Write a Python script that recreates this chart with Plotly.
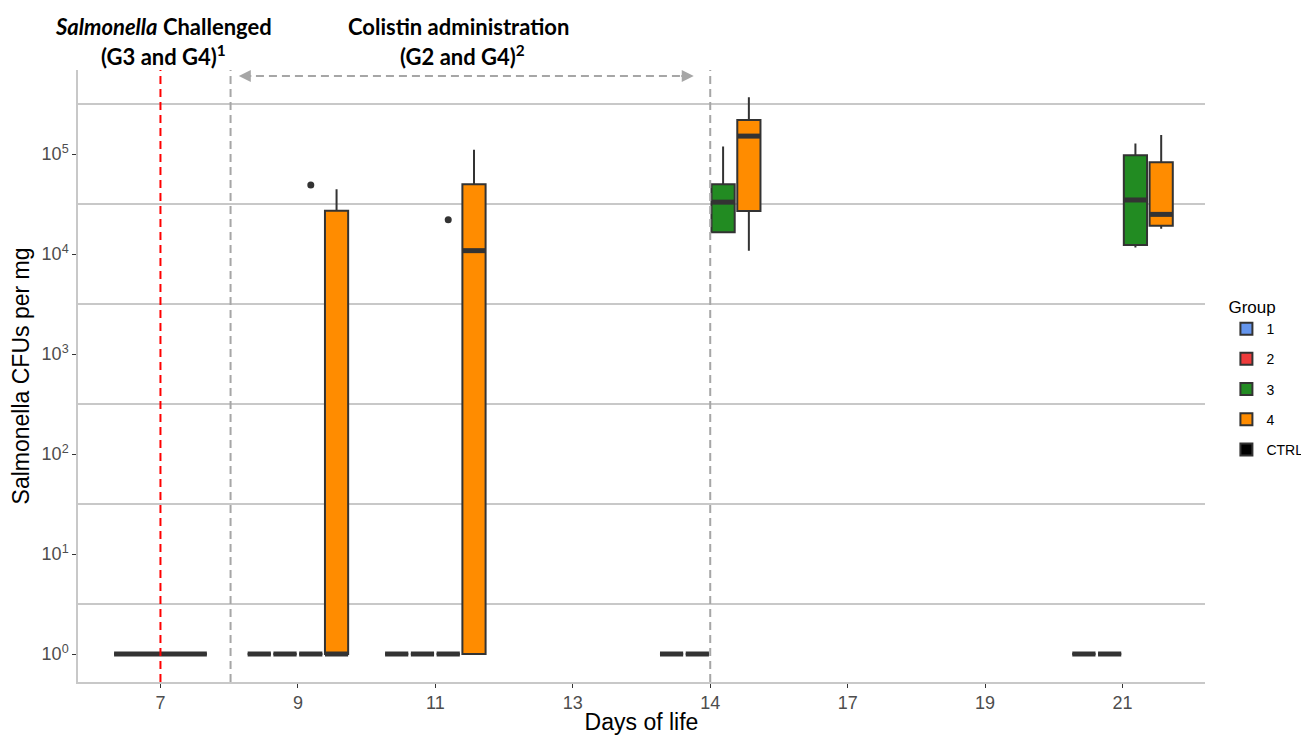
import plotly.graph_objects as go

# ---------------- data ----------------
days = ["7", "9", "11", "13", "14", "17", "19", "21"]
groups = ["1", "2", "3", "4", "CTRL"]
group_colors = ["#6495ED", "#EE3B3B", "#228B22", "#FF8C00", "#000000"]

# box statistics per group: days present, q1, median, q3, lower / upper whisker ends
g1_days = ["9", "11", "14", "21"]
g1_q1 = [1, 1, 1, 1]
g1_med = [1, 1, 1, 1]
g1_q3 = [1, 1, 1, 1]
g1_lo = [1, 1, 1, 1]
g1_hi = [1, 1, 1, 1]

g2_days = ["9", "11", "14", "21"]
g2_q1 = [1, 1, 1, 1]
g2_med = [1, 1, 1, 1]
g2_q3 = [1, 1, 1, 1]
g2_lo = [1, 1, 1, 1]
g2_hi = [1, 1, 1, 1]

g3_days = ["9", "11", "14", "21"]
g3_q1 = [1, 1, 16500, 12300]
g3_med = [1, 1, 33000, 34700]
g3_q3 = [1, 1, 49800, 97000]
g3_lo = [1, 1, 16500, 11600]
g3_hi = [1, 1, 119000, 127000]

g4_days = ["9", "11", "14", "21"]
g4_q1 = [1, 1, 26900, 19200]
g4_med = [1, 10800, 151000, 24900]
g4_q3 = [27100, 49800, 219000, 82600]
g4_lo = [1, 1, 10800, 17900]
g4_hi = [44400, 110000, 369000, 155000]

ctrl_days = ["7"]
ctrl_q1 = [1]
ctrl_med = [1]
ctrl_q3 = [1]
ctrl_lo = [1]
ctrl_hi = [1]

# outliers (group 3)
out_days = ["9", "11"]
out_group = ["3", "3"]
out_vals = [49000, 22000]

y_tickvals = [1, 10, 100, 1000, 10000, 100000]
y_ticktext = ["10<sup>0</sup>", "10<sup>1</sup>", "10<sup>2</sup>", "10<sup>3</sup>",
              "10<sup>4</sup>", "10<sup>5</sup>"]
grid_vals = [10 ** (k + 0.5) for k in range(6)]

stats = {
    "1": (g1_days, g1_q1, g1_med, g1_q3, g1_lo, g1_hi),
    "2": (g2_days, g2_q1, g2_med, g2_q3, g2_lo, g2_hi),
    "3": (g3_days, g3_q1, g3_med, g3_q3, g3_lo, g3_hi),
    "4": (g4_days, g4_q1, g4_med, g4_q3, g4_lo, g4_hi),
    "CTRL": (ctrl_days, ctrl_q1, ctrl_med, ctrl_q3, ctrl_lo, ctrl_hi),
}

# ---------------- dodge (like ggplot position_dodge2) ----------------
DODGE = 0.75
PAD = 0.1
present = {d: [g for g in groups if d in stats[g][0]] for d in days}


def dodge_pos(day, grp):
    lst = present[day]
    n = len(lst)
    slot = DODGE / n
    i = lst.index(grp)
    return days.index(day) - DODGE / 2 + slot * (i + 0.5), slot * (1 - PAD)


fig = go.Figure()
LINE = "#333333"

for g, col in zip(groups, group_colors):
    gd, q1, med, q3, lo, hi = stats[g]
    xs, ws = [], []
    for d in gd:
        p, w = dodge_pos(d, g)
        xs.append(p)
        ws.append(w)
    fig.add_trace(go.Box(
        x=xs, q1=q1, median=med, q3=q3, lowerfence=lo, upperfence=hi,
        width=ws[0], name=g, legendgroup=g,
        fillcolor=col, line=dict(color=LINE, width=2),
        whiskerwidth=0, boxpoints=False, hoverinfo="skip",
    ))
    # thick median bars
    mx, my = [], []
    for p, w, m in zip(xs, ws, med):
        mx += [p - w / 2, p + w / 2, None]
        my += [m, m, None]
    fig.add_trace(go.Scatter(
        x=mx, y=my, mode="lines", line=dict(color=LINE, width=5),
        showlegend=False, legendgroup=g, hoverinfo="skip",
    ))

ox = [dodge_pos(d, g)[0] for d, g in zip(out_days, out_group)]
fig.add_trace(go.Scatter(
    x=ox, y=out_vals, mode="markers",
    marker=dict(color=LINE, size=7), showlegend=False, hoverinfo="skip",
))

# ---------------- reference lines / annotations ----------------
fig.add_shape(type="line", xref="x", yref="paper", x0=0, x1=0, y0=0, y1=1,
              line=dict(color="#FF0000", width=2, dash="8px,5px"))
fig.add_shape(type="line", xref="x", yref="paper", x0=0.51, x1=0.51, y0=0, y1=1,
              line=dict(color="#A6A6A6", width=2, dash="8px,5px"))
fig.add_shape(type="line", xref="x", yref="paper", x0=4, x1=4, y0=0, y1=1,
              line=dict(color="#A6A6A6", width=2, dash="8px,5px"))
fig.add_shape(type="line", xref="x", yref="paper", x0=0.6, x1=3.84, y0=0.99, y1=0.99,
              line=dict(color="#A6A6A6", width=2, dash="8px,5px"))
for xh, axo in [(0.57, 14), (3.88, -14)]:
    fig.add_annotation(x=xh, y=0.99, xref="x", yref="paper", ax=axo, ay=0,
                       text="", showarrow=True, arrowhead=2, arrowsize=1.2,
                       arrowwidth=2, arrowcolor="#A6A6A6")

ann_font = dict(family="Lato", size=22, color="black")
for xa, ya, txt in [
    (0.02, 1.0703, "<b><i>Salmonella</i> Challenged</b>"),
    (0.02, 1.0229, "<b>(G3 and G4)<sup>1</sup></b>"),
    (2.17, 1.0703, "<b>Colistin administration</b>"),
    (2.2, 1.0229, "<b>(G2 and G4)<sup>2</sup></b>"),
]:
    fig.add_annotation(x=xa, y=ya, xref="x", yref="paper", showarrow=False,
                       xanchor="center", yanchor="middle", text=txt, font=ann_font)

# ---------------- layout ----------------
# the page body adds an 8px offset, so the figure is 8px smaller
fig.update_layout(
    width=1301, height=728,
    margin=dict(l=70, r=104, t=62, b=54, autoexpand=False),
    paper_bgcolor="white", plot_bgcolor="white",
    boxmode="overlay",
    font=dict(family="Liberation Sans", color="black"),
    legend=dict(
        title=dict(text="Group", font=dict(size=17, color="black")),
        x=1.019, xanchor="left", y=0.639, yanchor="top",
        font=dict(size=14, color="black"), tracegroupgap=9,
        itemwidth=30,
    ),
    xaxis=dict(
        range=[-0.6, 7.6], tickvals=list(range(len(days))), ticktext=days,
        showgrid=False, zeroline=False,
        showline=True, linecolor="#C8C8C8", linewidth=1.5,
        ticks="outside", ticklen=4, tickcolor="#333333",
        tickfont=dict(size=18, color="#4D4D4D"),
        title=dict(text="Days of life", font=dict(size=23, color="black"), standoff=2),
    ),
    yaxis=dict(
        type="log", range=[-0.28, 5.84],
        tickvals=y_tickvals, ticktext=y_ticktext,
        showgrid=False, zeroline=False,
        showline=True, linecolor="#C8C8C8", linewidth=1.5,
        ticks="outside", ticklen=4, tickcolor="#333333",
        tickfont=dict(size=18, color="#4D4D4D"),
        minor=dict(tickvals=grid_vals, showgrid=True, gridcolor="#C8C8C8",
                   gridwidth=1.5, ticks=""),
        title=dict(text="Salmonella CFUs per mg", font=dict(size=23, color="black"),
                   standoff=6),
    ),
)

fig.write_html("out.html")
